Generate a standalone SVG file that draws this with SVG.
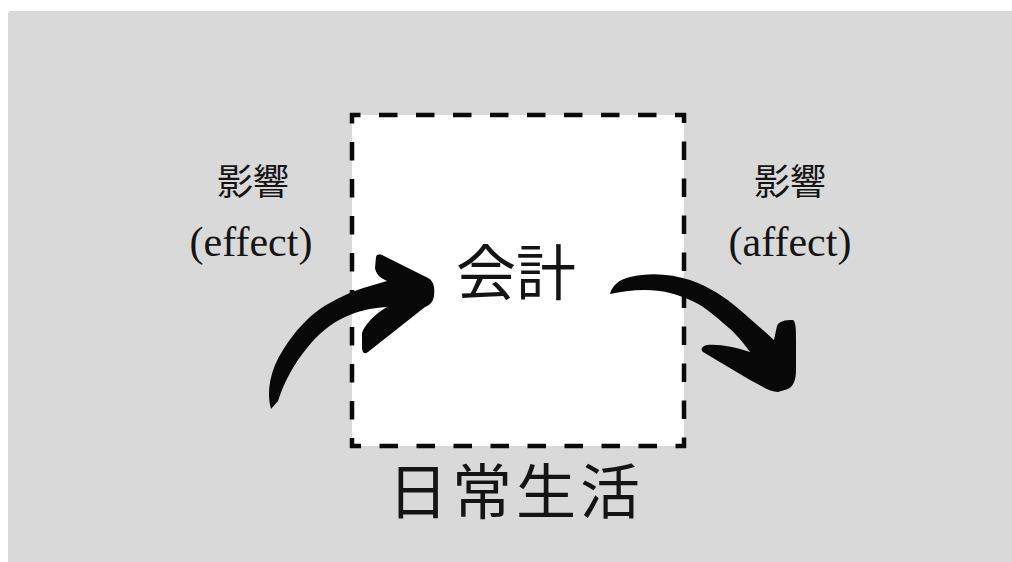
<svg xmlns="http://www.w3.org/2000/svg" width="1012" height="562" viewBox="0 0 1012 562">
  <style>
    .lbl { font-family: "Liberation Serif", "Noto Sans CJK JP", serif; fill: #141414; text-anchor: middle; }
    .dash { fill: none; stroke: #0a0a0a; stroke-width: 4.5; stroke-dasharray: 18.5 18.5; stroke-dashoffset: 8; }
    .arrow { fill: #080808; stroke: none; }
  </style>
  <rect x="0" y="0" width="1012" height="562" fill="#ffffff"/>
  <rect x="8" y="11" width="1010" height="560" rx="3" fill="#d9d9d9"/>

  <g id="box-accounting">
    <rect x="352" y="115" width="332" height="331" fill="#ffffff"/>
    <path class="dash" d="M350 115 H686"/>
    <path class="dash" d="M352 113 V448"/>
    <path class="dash" d="M686 446 H350"/>
    <path class="dash" d="M684 448 V113"/>
    <text class="lbl" x="516" y="295" font-size="60">会計</text>
  </g>

  <g id="label-daily-life">
    <text class="lbl" x="516" y="514" font-size="60" letter-spacing="4">日常生活</text>
  </g>

  <g id="label-effect">
    <text class="lbl" x="253" y="195" font-size="36">影響</text>
    <text class="lbl" x="251" y="256" font-size="42">(effect)</text>
  </g>

  <g id="label-affect">
    <text class="lbl" x="790" y="195" font-size="36">影響</text>
    <text class="lbl" x="790" y="256" font-size="42">(affect)</text>
  </g>

  <g id="connectors">
    <path id="arrow-in" class="arrow" d="M271 409 C266 392 270 370 283 350 C295 330 310 316 320 309 C335 299 352 291 370 286 L387 281 C380 278 376 274 375 268 L376 257 C377 254 380 254 384 256 L428 278 C434 281 435 288 434 296 C433 302 430 305 425 307 L368 352 C364 355 362 352 362 347 L362 333 C365 324 375 314 387 307 C370 308 358 311 345 317 C330 324 318 334 307 348 C294 364 285 380 278 401 Z"/>
    <path id="arrow-out" class="arrow" d="M610 294 C612 286 618 280 630 277 C650 272 672 274 690 280 C710 287 725 297 740 310 C755 323 765 332 774 340 L777 326 C779 321 785 320 793 320 C796 322 796 330 796 340 L796 370 C796 380 793 387 788 389 L778 392 C770 392 760 385 750 380 L703 352 C700 349 702 346 707 345 C720 344 735 347 750 352 C740 338 732 330 723 323 C712 313 702 305 690 300 C677 294 662 290 645 290 C632 290 620 292 610 294 Z"/>
  </g>
</svg>
